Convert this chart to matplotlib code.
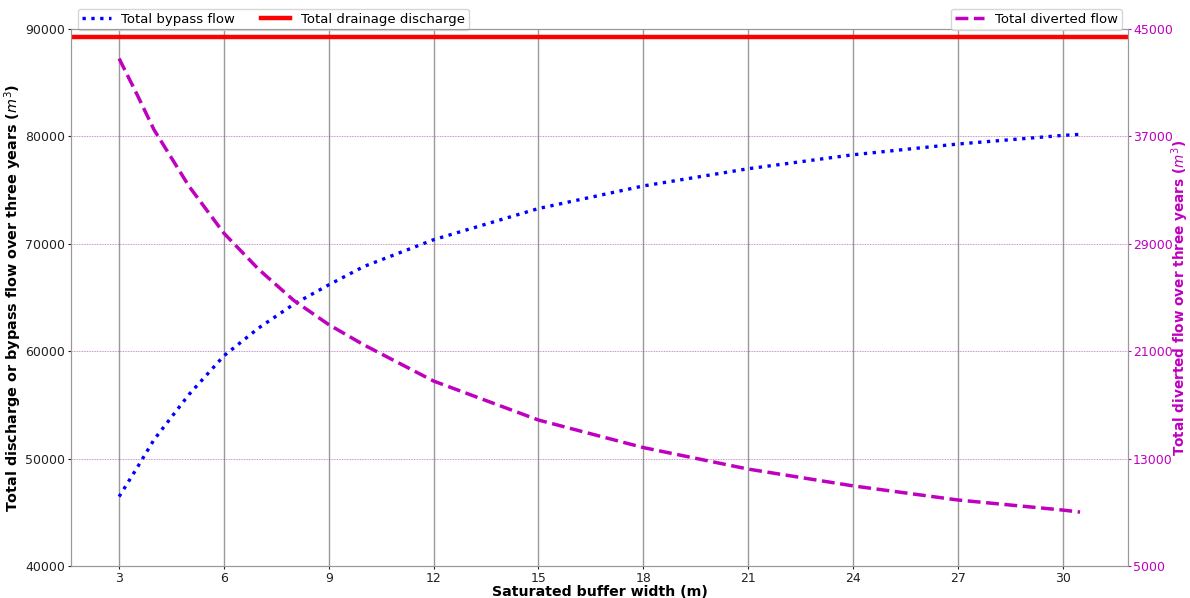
import numpy as np
from matplotlib import pyplot as plt

# saturated buffer width (m)
width = [3, 3.5, 4, 5, 6, 7, 8, 9, 10, 12, 15, 18, 21, 24, 27, 30, 30.5]
# total bypass flow over three years (m3)
bypass = [46500, 49100, 51800, 56000, 59600, 62200, 64400, 66200, 67900,
          70400, 73300, 75400, 77000, 78300, 79300, 80100, 80200]
# total diverted flow over three years (m3)
diverted = [42800, 40200, 37500, 33300, 29800, 27100, 24800, 23000, 21500,
            18800, 15900, 13850, 12250, 11000, 9950, 9200, 9050]
total_discharge = 89300

x_ticks = [3, 6, 9, 12, 15, 18, 21, 24, 27, 30]
left_ticks = [40000, 50000, 60000, 70000, 80000, 90000]
right_ticks = [5000, 13000, 21000, 29000, 37000, 45000]

fig = plt.figure(figsize=(11.9, 5.98), dpi=100)
ax = fig.add_axes([0.0597, 0.0527, 0.8883, 0.8988])
ax2 = ax.twinx()

l1, = ax.plot(width, bypass, color="blue", linestyle=":", linewidth=2.4,
              label="Total bypass flow")
l2 = ax.axhline(total_discharge, color="red", linewidth=3.2,
                label="Total drainage discharge")
l3, = ax2.plot(width, diverted, color="m", linestyle="--", linewidth=2.5,
               label="Total diverted flow")

ax.set_xticks(x_ticks)
ax.set_yticks(left_ticks)
ax.set_ylim(40000, 90000)
ax2.set_yticks(right_ticks)
ax2.set_ylim(5000, 45000)

ax.grid(True, axis="x", color="grey", linewidth=1, alpha=0.8)
ax.grid(True, axis="y", color="grey", linewidth=0.4, alpha=0.3)
ax2.grid(True, axis="y", color="m", linestyle=":", linewidth=0.7, alpha=0.45)

ax.tick_params(labelsize=9, colors="#222222", length=2.5, pad=1.5)
ax2.tick_params(axis="y", labelsize=9, colors="m", length=2.5, pad=1)
for a in (ax, ax2):
    for s in a.spines.values():
        s.set_color("#999999")

ax.set_xlabel("Saturated buffer width (m)", fontsize=10.2, fontweight="bold",
              labelpad=0)
ax.set_ylabel("Total discharge or bypass flow over three years ($m^3$)",
              fontsize=10.4, fontweight="bold", labelpad=1)
ax2.set_ylabel("Total diverted flow over three years ($m^3$)", fontsize=9.8,
               fontweight="bold", color="m")
ax2.yaxis.set_label_coords(1.039, 0.5)

leg1 = ax.legend(handles=[l1, l2], loc="upper left", bbox_to_anchor=(0, 1.05),
                 ncol=2, fontsize=9.5, handlelength=2.2, columnspacing=2.0,
                 borderpad=0.3)
ax2.legend(handles=[l3], loc="upper right", bbox_to_anchor=(1, 1.05),
           fontsize=9.5, handlelength=2.2, borderpad=0.3)

plt.savefig("out.png", dpi=100)
